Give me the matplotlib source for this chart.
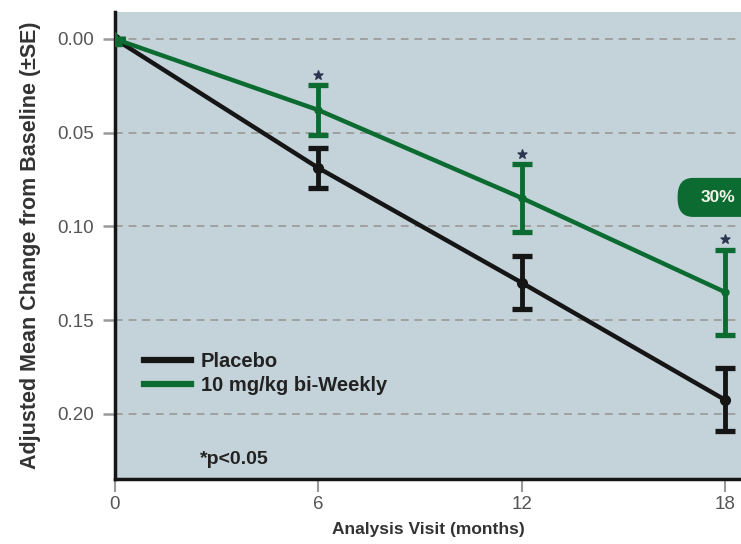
import matplotlib.pyplot as plt
from matplotlib.lines import Line2D
from matplotlib.patches import FancyBboxPatch

months = [0, 6, 12, 18]
placebo = [0.0, 0.0688, 0.130, 0.1925]
placebo_se = [0.0, 0.0107, 0.0141, 0.0168]
treat = [0.0, 0.0379, 0.0848, 0.135]
treat_se = [0.0, 0.0133, 0.0179, 0.0227]
yticks = [0.00, 0.05, 0.10, 0.15, 0.20]

black = '#151515'
green = '#0b6b30'

plt.rcParams['font.family'] = ['Liberation Sans', 'DejaVu Sans']

fig = plt.figure(figsize=(7.41, 5.44), dpi=100)
ax = fig.add_axes([115 / 741, 1 - 479 / 544, 1 - 115 / 741, 467 / 544])
ax.set_facecolor('#c4d2d9')

for t in yticks:
    ax.axhline(t, color='#a0a0a0', lw=1.4, ls=(0, (4, 3)), zorder=1)

ax.errorbar(months, placebo, yerr=placebo_se, color=black, lw=3.2, elinewidth=3.5,
            capsize=7.5, capthick=3.8, marker='o', ms=7, zorder=3)
ax.errorbar(months, treat, yerr=treat_se, color=green, lw=3.2, elinewidth=3.5,
            capsize=7.5, capthick=3.8, marker='o', ms=5, zorder=4)
ax.plot([0], [0], marker='^', color=green, ms=10, zorder=5)

# significance stars above the treated error bars
star_y = [v - s - 0.0055 for v, s in zip(treat[1:], treat_se[1:])]
ax.scatter(months[1:], star_y, marker='*', s=45, color='#2c3550', zorder=5)

box = FancyBboxPatch((16.6, 0.0741), 2.3, 0.0208,
                     boxstyle='round,pad=0,rounding_size=0.45', mutation_aspect=0.022,
                     facecolor=green, edgecolor='none', zorder=5, clip_on=True)
ax.add_patch(box)
ax.text(17.78, 0.0848, '30%', ha='center', va='center', fontsize=12.5,
        fontweight='bold', color='#f4f4e8', zorder=6)

ax.set_xlim(0, 18.47)
ax.set_ylim(0.2347, -0.0144)
ax.set_xticks(months)
ax.set_yticks(yticks)
ax.set_yticklabels(['%.2f' % t for t in yticks])
ax.tick_params(axis='y', colors='#9a9a9a', length=9, width=1.8, labelsize=13.5,
               labelcolor='#555555', pad=6)
ax.tick_params(axis='x', colors='#9a9a9a', length=9, width=1.5, labelsize=13.5,
               labelcolor='#555555', pad=3)

for side in ['top', 'right']:
    ax.spines[side].set_visible(False)
ax.spines['left'].set_linewidth(2.5)
ax.spines['bottom'].set_linewidth(2.5)
ax.spines['left'].set_color(black)
ax.spines['bottom'].set_color(black)

ax.set_ylabel('Adjusted Mean Change from Baseline (±SE)', fontsize=15.5,
              fontweight='bold', color='#333333', labelpad=12)
ax.set_xlabel('Analysis Visit (months)', fontsize=12.5, fontweight='bold',
              color='#333333', labelpad=7)

handles = [Line2D([], [], color=black, lw=4.5), Line2D([], [], color=green, lw=4.5)]
leg = ax.legend(handles, ['Placebo', '10 mg/kg bi-Weekly'], loc='upper left',
                bbox_to_anchor=(0.018, 0.31), frameon=False,
                fontsize=14.5, handlelength=2.3, handletextpad=0.5, labelspacing=0.25)
for txt in leg.get_texts():
    txt.set_fontweight('bold')
    txt.set_color('#222222')

ax.text(2.5, 0.2245, '*p<0.05', fontsize=14, fontweight='bold', color='#222222', va='center')

fig.savefig('out.png', dpi=100)
